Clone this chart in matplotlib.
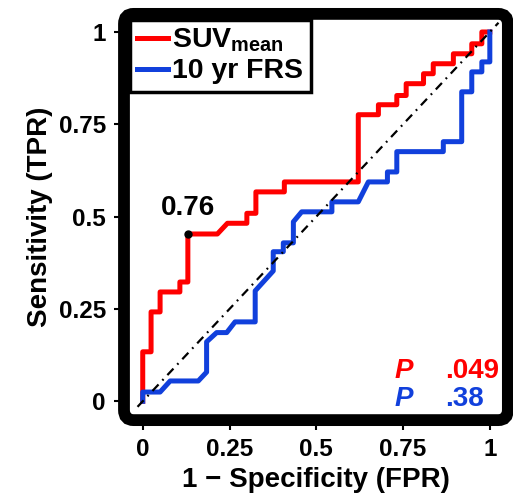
import matplotlib
matplotlib.use('Agg')
import matplotlib.pyplot as plt
from matplotlib.patches import FancyBboxPatch

# ROC points (FPR, TPR)
suv_fpr = [0, 0, 0.024, 0.024, 0.05, 0.05, 0.107, 0.107, 0.13, 0.13, 0.215, 0.244,
           0.3, 0.3, 0.326, 0.326, 0.408, 0.408, 0.621, 0.621, 0.679, 0.679, 0.732,
           0.732, 0.759, 0.759, 0.809, 0.809, 0.837, 0.837, 0.895, 0.895, 0.948,
           0.948, 0.977, 0.977, 1]
suv_tpr = [0, 0.134, 0.134, 0.242, 0.242, 0.296, 0.296, 0.323, 0.323, 0.453, 0.453,
           0.482, 0.482, 0.509, 0.509, 0.567, 0.567, 0.594, 0.594, 0.776, 0.776,
           0.803, 0.803, 0.828, 0.828, 0.86, 0.86, 0.887, 0.887, 0.914, 0.914,
           0.941, 0.941, 0.968, 0.968, 1, 1]

frs_fpr = [0, 0, 0.05, 0.079, 0.16, 0.184, 0.184, 0.213, 0.242, 0.266, 0.324, 0.324,
           0.376, 0.376, 0.405, 0.405, 0.434, 0.434, 0.458, 0.545, 0.545, 0.621,
           0.65, 0.705, 0.705, 0.732, 0.732, 0.866, 0.866, 0.919, 0.919, 0.948,
           0.948, 0.977, 0.977, 1, 1]
frs_tpr = [0, 0.025, 0.025, 0.055, 0.055, 0.079, 0.161, 0.186, 0.186, 0.215, 0.215,
           0.299, 0.353, 0.405, 0.405, 0.429, 0.429, 0.486, 0.513, 0.513, 0.54,
           0.54, 0.594, 0.594, 0.621, 0.621, 0.676, 0.676, 0.703, 0.703, 0.838,
           0.838, 0.892, 0.892, 0.919, 0.919, 1]

# cut-off point marked on the SUV curve
cut_fpr = 0.13
cut_tpr = 0.453
cut_label = '0.76'

ticks = [0, 0.25, 0.5, 0.75, 1]
tick_labels = ['0', '0.25', '0.5', '0.75', '1']

p_suv = '.049'
p_frs = '.38'

red = '#ff0000'
blue = '#1140dc'

plt.rcParams['font.family'] = ['Liberation Sans', 'DejaVu Sans']
plt.rcParams['font.weight'] = 'bold'
plt.rcParams['mathtext.fontset'] = 'custom'
plt.rcParams['mathtext.rm'] = 'Liberation Sans:bold'
plt.rcParams['mathtext.bf'] = 'Liberation Sans:bold'
plt.rcParams['mathtext.it'] = 'Liberation Sans:bold:italic'

fig = plt.figure(figsize=(5.13, 4.96), dpi=100)
ax = fig.add_axes([0.2417, 0.153, 0.7483, 0.819])

ax.plot(suv_fpr, suv_tpr, color=red, lw=3.6, label=r'SUV$_{\mathrm{mean}}$', zorder=3)
ax.plot(frs_fpr, frs_tpr, color=blue, lw=3.6, label='10 yr FRS', zorder=3)

# chance line
ax.plot([-0.015, 1.025], [-0.015, 1.025], color='black', lw=1.6,
        linestyle=(0, (4, 2.5, 0.8, 2.5)), zorder=4)

ax.plot(cut_fpr, cut_tpr, 'o', color='black', ms=5, zorder=5)
ax.text(cut_fpr, cut_tpr + 0.035, cut_label, ha='center', va='bottom',
        fontsize=20, fontweight='bold')

# P values, one row per curve
ax.text(0.726, 0.062, 'P', color=red, fontsize=20, fontweight='bold', style='italic')
ax.text(0.870, 0.062, p_suv, color=red, fontsize=20, fontweight='bold')
ax.text(0.726, -0.014, 'P', color=blue, fontsize=20, fontweight='bold', style='italic')
ax.text(0.870, -0.014, p_frs, color=blue, fontsize=20, fontweight='bold')

ax.set_xlim(-0.054, 1.052)
ax.set_ylim(-0.051, 1.049)
ax.set_xticks(ticks)
ax.set_xticklabels(tick_labels)
ax.set_yticks(ticks)
ax.set_yticklabels(tick_labels)
ax.tick_params(direction='out', length=7, width=1.5, pad=6, labelsize=17.5)
for lab in ax.get_xticklabels() + ax.get_yticklabels():
    lab.set_fontweight('bold')

ax.set_xlabel('1 \u2212 Specificity (FPR)', fontsize=20, fontweight='bold', labelpad=4)
ax.set_ylabel('Sensitivity (TPR)', fontsize=20, fontweight='bold', labelpad=4)

# thick frame with rounded corners instead of the spines
for s in ax.spines.values():
    s.set_visible(False)
frame = FancyBboxPatch((0, 0), 1, 1, boxstyle='round,pad=0,rounding_size=0.025',
                       transform=ax.transAxes, fill=False, lw=8.5,
                       edgecolor='black', clip_on=False, zorder=10)
ax.add_patch(frame)

leg = ax.legend(loc='upper left', bbox_to_anchor=(0.0, 1.0), borderaxespad=0.2,
                fontsize=20.5, handlelength=1.1, handletextpad=0.15, labelspacing=0.15,
                borderpad=0.25, fancybox=False, framealpha=1)
leg.get_frame().set_edgecolor('black')
leg.get_frame().set_linewidth(2.5)
leg.set_zorder(6)

fig.savefig('out.png', dpi=100)
